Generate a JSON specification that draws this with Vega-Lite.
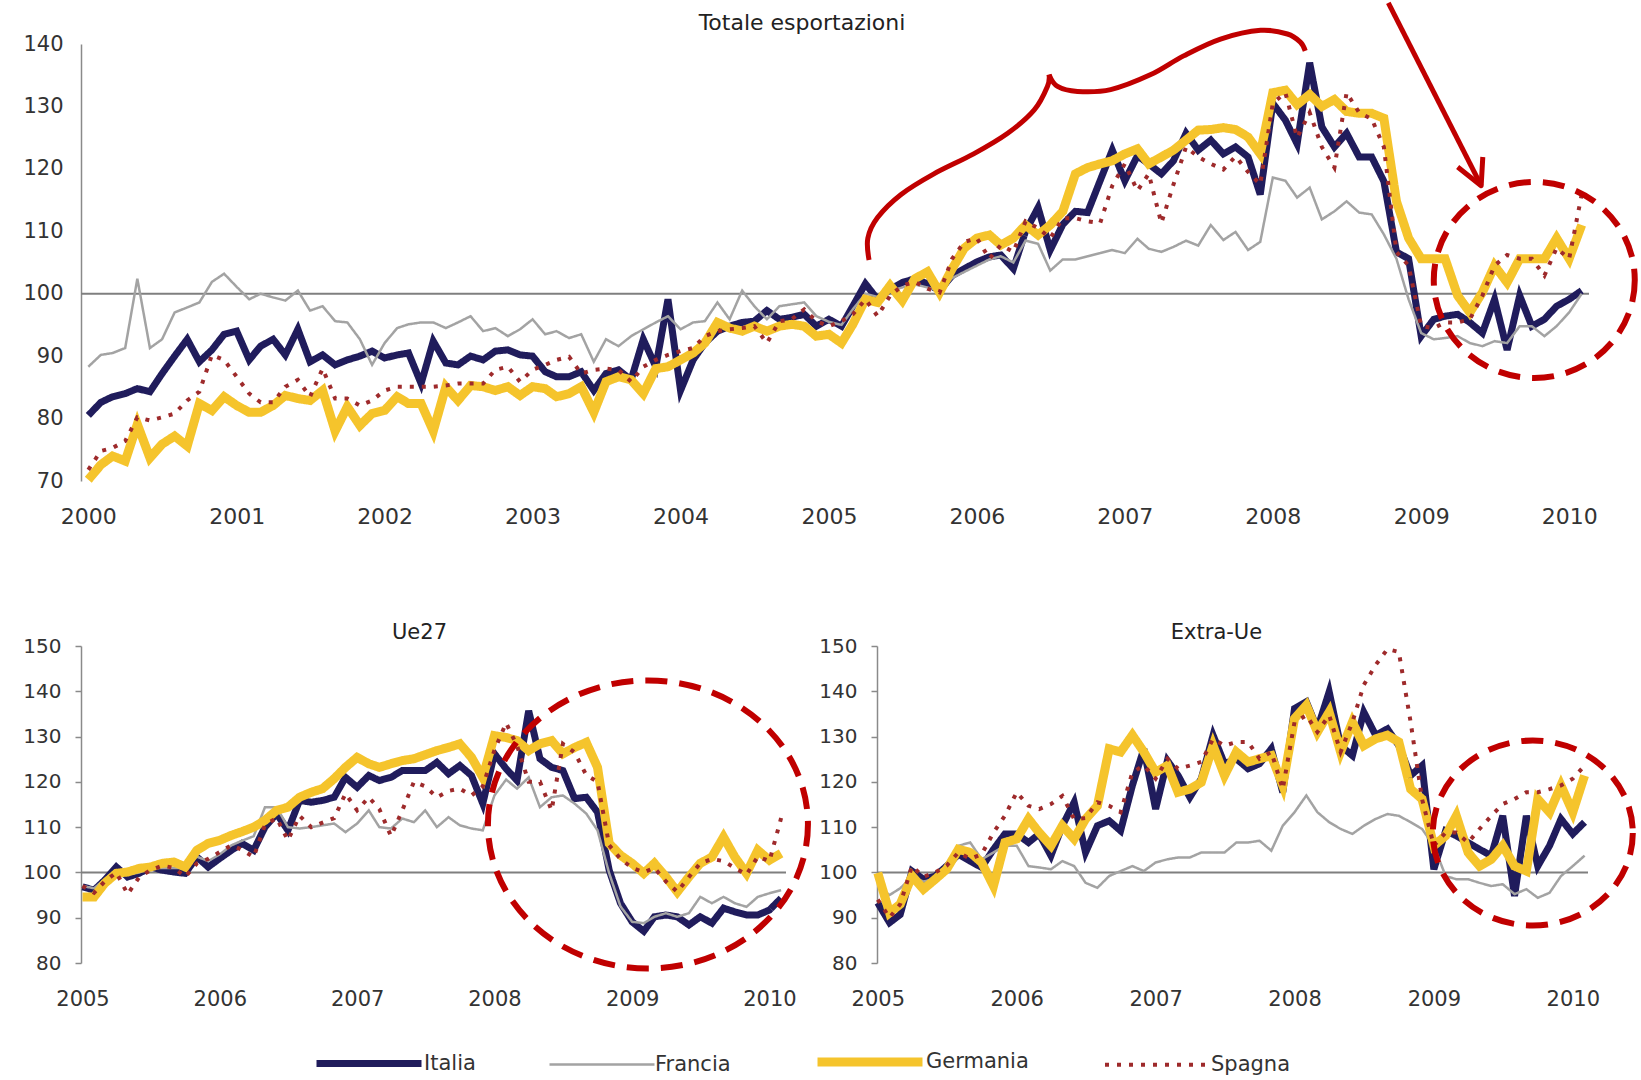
{
"$schema": "https://vega.github.io/schema/vega-lite/v6.json",
"background": "white",
"padding": {"left": 22, "top": 0, "right": 0, "bottom": 0},
"config": {
  "view": {"stroke": null},
  "font": "DejaVu Sans",
  "axis": {"grid": false, "labelFont": "DejaVu Sans", "labelColor": "#333333", "domainColor": "#8a8a8a", "domainWidth": 1.5, "tickColor": "#8a8a8a", "tickWidth": 1.5},
  "title": {"font": "DejaVu Sans", "fontWeight": "normal", "color": "#222222", "anchor": "middle", "baseline": "alphabetic"},
  "legend": {"title": null, "orient": "none", "legendX": 232, "legendY": 1003, "direction": "horizontal", "symbolType": "M-1,0H9", "symbolSize": 441, "labelFont": "DejaVu Sans", "labelFontSize": 21, "labelColor": "#333333", "labelOffset": 83, "columnPadding": 68}
},
"datasets": {
"tot": [
{"d":"2000-01","c":"Italia","v":80.5},{"d":"2000-02","c":"Italia","v":82.6},{"d":"2000-03","c":"Italia","v":83.5},{"d":"2000-04","c":"Italia","v":84},{"d":"2000-05","c":"Italia","v":84.8},{"d":"2000-06","c":"Italia","v":84.3},{"d":"2000-07","c":"Italia","v":87.2},{"d":"2000-08","c":"Italia","v":90},{"d":"2000-09","c":"Italia","v":92.7},{"d":"2000-10","c":"Italia","v":89.1},{"d":"2000-11","c":"Italia","v":91},{"d":"2000-12","c":"Italia","v":93.5},
{"d":"2001-01","c":"Italia","v":94},{"d":"2001-02","c":"Italia","v":89.4},{"d":"2001-03","c":"Italia","v":91.6},{"d":"2001-04","c":"Italia","v":92.7},{"d":"2001-05","c":"Italia","v":90.2},{"d":"2001-06","c":"Italia","v":94.3},{"d":"2001-07","c":"Italia","v":89.1},{"d":"2001-08","c":"Italia","v":90.2},{"d":"2001-09","c":"Italia","v":88.6},{"d":"2001-10","c":"Italia","v":89.4},{"d":"2001-11","c":"Italia","v":90},{"d":"2001-12","c":"Italia","v":90.8},
{"d":"2002-01","c":"Italia","v":89.7},{"d":"2002-02","c":"Italia","v":90.2},{"d":"2002-03","c":"Italia","v":90.5},{"d":"2002-04","c":"Italia","v":85.6},{"d":"2002-05","c":"Italia","v":92.4},{"d":"2002-06","c":"Italia","v":88.9},{"d":"2002-07","c":"Italia","v":88.6},{"d":"2002-08","c":"Italia","v":90},{"d":"2002-09","c":"Italia","v":89.4},{"d":"2002-10","c":"Italia","v":90.8},{"d":"2002-11","c":"Italia","v":91},{"d":"2002-12","c":"Italia","v":90.2},
{"d":"2003-01","c":"Italia","v":90},{"d":"2003-02","c":"Italia","v":87.5},{"d":"2003-03","c":"Italia","v":86.7},{"d":"2003-04","c":"Italia","v":86.7},{"d":"2003-05","c":"Italia","v":87.5},{"d":"2003-06","c":"Italia","v":84.5},{"d":"2003-07","c":"Italia","v":87.2},{"d":"2003-08","c":"Italia","v":87.8},{"d":"2003-09","c":"Italia","v":86.2},{"d":"2003-10","c":"Italia","v":92.7},{"d":"2003-11","c":"Italia","v":88.3},{"d":"2003-12","c":"Italia","v":99.1},
{"d":"2004-01","c":"Italia","v":84.5},{"d":"2004-02","c":"Italia","v":89.4},{"d":"2004-03","c":"Italia","v":92.1},{"d":"2004-04","c":"Italia","v":94},{"d":"2004-05","c":"Italia","v":94.8},{"d":"2004-06","c":"Italia","v":95.4},{"d":"2004-07","c":"Italia","v":95.6},{"d":"2004-08","c":"Italia","v":97.3},{"d":"2004-09","c":"Italia","v":95.9},{"d":"2004-10","c":"Italia","v":96.2},{"d":"2004-11","c":"Italia","v":96.7},{"d":"2004-12","c":"Italia","v":94.8},
{"d":"2005-01","c":"Italia","v":95.9},{"d":"2005-02","c":"Italia","v":94.8},{"d":"2005-03","c":"Italia","v":98},{"d":"2005-04","c":"Italia","v":101.6},{"d":"2005-05","c":"Italia","v":99.1},{"d":"2005-06","c":"Italia","v":100.7},{"d":"2005-07","c":"Italia","v":101.8},{"d":"2005-08","c":"Italia","v":102.4},{"d":"2005-09","c":"Italia","v":101.6},{"d":"2005-10","c":"Italia","v":100.5},{"d":"2005-11","c":"Italia","v":102.9},{"d":"2005-12","c":"Italia","v":104},
{"d":"2006-01","c":"Italia","v":105.1},{"d":"2006-02","c":"Italia","v":105.9},{"d":"2006-03","c":"Italia","v":106.2},{"d":"2006-04","c":"Italia","v":104},{"d":"2006-05","c":"Italia","v":110},{"d":"2006-06","c":"Italia","v":113.8},{"d":"2006-07","c":"Italia","v":107},{"d":"2006-08","c":"Italia","v":111.1},{"d":"2006-09","c":"Italia","v":113.2},{"d":"2006-10","c":"Italia","v":113},{"d":"2006-11","c":"Italia","v":118.1},{"d":"2006-12","c":"Italia","v":123},
{"d":"2007-01","c":"Italia","v":118.1},{"d":"2007-02","c":"Italia","v":122.1},{"d":"2007-03","c":"Italia","v":120.8},{"d":"2007-04","c":"Italia","v":119.2},{"d":"2007-05","c":"Italia","v":121.3},{"d":"2007-06","c":"Italia","v":125.7},{"d":"2007-07","c":"Italia","v":123},{"d":"2007-08","c":"Italia","v":124.6},{"d":"2007-09","c":"Italia","v":122.4},{"d":"2007-10","c":"Italia","v":123.5},{"d":"2007-11","c":"Italia","v":121.9},{"d":"2007-12","c":"Italia","v":115.9},
{"d":"2008-01","c":"Italia","v":130.5},{"d":"2008-02","c":"Italia","v":127.8},{"d":"2008-03","c":"Italia","v":124},{"d":"2008-04","c":"Italia","v":137},{"d":"2008-05","c":"Italia","v":126.7},{"d":"2008-06","c":"Italia","v":123.5},{"d":"2008-07","c":"Italia","v":125.7},{"d":"2008-08","c":"Italia","v":121.9},{"d":"2008-09","c":"Italia","v":121.9},{"d":"2008-10","c":"Italia","v":118},{"d":"2008-11","c":"Italia","v":106.7},{"d":"2008-12","c":"Italia","v":105.6},
{"d":"2009-01","c":"Italia","v":93.2},{"d":"2009-02","c":"Italia","v":95.9},{"d":"2009-03","c":"Italia","v":96.4},{"d":"2009-04","c":"Italia","v":96.7},{"d":"2009-05","c":"Italia","v":95.4},{"d":"2009-06","c":"Italia","v":93.7},{"d":"2009-07","c":"Italia","v":99.1},{"d":"2009-08","c":"Italia","v":91},{"d":"2009-09","c":"Italia","v":99.7},{"d":"2009-10","c":"Italia","v":94.8},{"d":"2009-11","c":"Italia","v":95.9},{"d":"2009-12","c":"Italia","v":98},
{"d":"2010-01","c":"Italia","v":99.1},{"d":"2010-02","c":"Italia","v":100.5},
{"d":"2000-01","c":"Francia","v":88.3},{"d":"2000-02","c":"Francia","v":90.2},{"d":"2000-03","c":"Francia","v":90.5},{"d":"2000-04","c":"Francia","v":91.3},{"d":"2000-05","c":"Francia","v":102.4},{"d":"2000-06","c":"Francia","v":91.3},{"d":"2000-07","c":"Francia","v":92.7},{"d":"2000-08","c":"Francia","v":97},{"d":"2000-09","c":"Francia","v":97.8},{"d":"2000-10","c":"Francia","v":98.6},{"d":"2000-11","c":"Francia","v":101.9},{"d":"2000-12","c":"Francia","v":103.2},
{"d":"2001-01","c":"Francia","v":101.1},{"d":"2001-02","c":"Francia","v":99.1},{"d":"2001-03","c":"Francia","v":100},{"d":"2001-04","c":"Francia","v":99.4},{"d":"2001-05","c":"Francia","v":98.9},{"d":"2001-06","c":"Francia","v":100.5},{"d":"2001-07","c":"Francia","v":97.3},{"d":"2001-08","c":"Francia","v":98},{"d":"2001-09","c":"Francia","v":95.6},{"d":"2001-10","c":"Francia","v":95.4},{"d":"2001-11","c":"Francia","v":92.7},{"d":"2001-12","c":"Francia","v":88.6},
{"d":"2002-01","c":"Francia","v":92.1},{"d":"2002-02","c":"Francia","v":94.5},{"d":"2002-03","c":"Francia","v":95.1},{"d":"2002-04","c":"Francia","v":95.4},{"d":"2002-05","c":"Francia","v":95.4},{"d":"2002-06","c":"Francia","v":94.5},{"d":"2002-07","c":"Francia","v":95.4},{"d":"2002-08","c":"Francia","v":96.4},{"d":"2002-09","c":"Francia","v":94},{"d":"2002-10","c":"Francia","v":94.5},{"d":"2002-11","c":"Francia","v":93.2},{"d":"2002-12","c":"Francia","v":94.3},
{"d":"2003-01","c":"Francia","v":95.9},{"d":"2003-02","c":"Francia","v":93.5},{"d":"2003-03","c":"Francia","v":94},{"d":"2003-04","c":"Francia","v":92.9},{"d":"2003-05","c":"Francia","v":93.5},{"d":"2003-06","c":"Francia","v":89.1},{"d":"2003-07","c":"Francia","v":92.7},{"d":"2003-08","c":"Francia","v":91.6},{"d":"2003-09","c":"Francia","v":93.2},{"d":"2003-10","c":"Francia","v":94.3},{"d":"2003-11","c":"Francia","v":95.4},{"d":"2003-12","c":"Francia","v":96.4},
{"d":"2004-01","c":"Francia","v":94.3},{"d":"2004-02","c":"Francia","v":95.4},{"d":"2004-03","c":"Francia","v":95.6},{"d":"2004-04","c":"Francia","v":98.6},{"d":"2004-05","c":"Francia","v":95.9},{"d":"2004-06","c":"Francia","v":100.5},{"d":"2004-07","c":"Francia","v":98},{"d":"2004-08","c":"Francia","v":95.9},{"d":"2004-09","c":"Francia","v":98},{"d":"2004-10","c":"Francia","v":98.3},{"d":"2004-11","c":"Francia","v":98.6},{"d":"2004-12","c":"Francia","v":96.4},
{"d":"2005-01","c":"Francia","v":95.5},{"d":"2005-02","c":"Francia","v":95},{"d":"2005-03","c":"Francia","v":97.5},{"d":"2005-04","c":"Francia","v":100},{"d":"2005-05","c":"Francia","v":99.5},{"d":"2005-06","c":"Francia","v":100.5},{"d":"2005-07","c":"Francia","v":101},{"d":"2005-08","c":"Francia","v":101.5},{"d":"2005-09","c":"Francia","v":101},{"d":"2005-10","c":"Francia","v":100.5},{"d":"2005-11","c":"Francia","v":102.5},{"d":"2005-12","c":"Francia","v":103.5},
{"d":"2006-01","c":"Francia","v":104.5},{"d":"2006-02","c":"Francia","v":105.5},{"d":"2006-03","c":"Francia","v":106},{"d":"2006-04","c":"Francia","v":105},{"d":"2006-05","c":"Francia","v":108.5},{"d":"2006-06","c":"Francia","v":108},{"d":"2006-07","c":"Francia","v":103.7},{"d":"2006-08","c":"Francia","v":105.5},{"d":"2006-09","c":"Francia","v":105.5},{"d":"2006-10","c":"Francia","v":106},{"d":"2006-11","c":"Francia","v":106.5},{"d":"2006-12","c":"Francia","v":107},
{"d":"2007-01","c":"Francia","v":106.5},{"d":"2007-02","c":"Francia","v":108.8},{"d":"2007-03","c":"Francia","v":107.2},{"d":"2007-04","c":"Francia","v":106.7},{"d":"2007-05","c":"Francia","v":107.5},{"d":"2007-06","c":"Francia","v":108.5},{"d":"2007-07","c":"Francia","v":107.7},{"d":"2007-08","c":"Francia","v":111},{"d":"2007-09","c":"Francia","v":108.6},{"d":"2007-10","c":"Francia","v":109.9},{"d":"2007-11","c":"Francia","v":107},{"d":"2007-12","c":"Francia","v":108.3},
{"d":"2008-01","c":"Francia","v":118.6},{"d":"2008-02","c":"Francia","v":118.1},{"d":"2008-03","c":"Francia","v":115.4},{"d":"2008-04","c":"Francia","v":117},{"d":"2008-05","c":"Francia","v":111.9},{"d":"2008-06","c":"Francia","v":113.2},{"d":"2008-07","c":"Francia","v":114.8},{"d":"2008-08","c":"Francia","v":113},{"d":"2008-09","c":"Francia","v":112.7},{"d":"2008-10","c":"Francia","v":109.5},{"d":"2008-11","c":"Francia","v":105.6},{"d":"2008-12","c":"Francia","v":99.1},
{"d":"2009-01","c":"Francia","v":93.7},{"d":"2009-02","c":"Francia","v":92.7},{"d":"2009-03","c":"Francia","v":92.9},{"d":"2009-04","c":"Francia","v":93.2},{"d":"2009-05","c":"Francia","v":92.1},{"d":"2009-06","c":"Francia","v":91.6},{"d":"2009-07","c":"Francia","v":92.4},{"d":"2009-08","c":"Francia","v":92.1},{"d":"2009-09","c":"Francia","v":94.8},{"d":"2009-10","c":"Francia","v":94.8},{"d":"2009-11","c":"Francia","v":93.2},{"d":"2009-12","c":"Francia","v":94.8},
{"d":"2010-01","c":"Francia","v":97},{"d":"2010-02","c":"Francia","v":100},
{"d":"2000-01","c":"Germania","v":70.2},{"d":"2000-02","c":"Germania","v":72.6},{"d":"2000-03","c":"Germania","v":74},{"d":"2000-04","c":"Germania","v":73.2},{"d":"2000-05","c":"Germania","v":79.1},{"d":"2000-06","c":"Germania","v":73.7},{"d":"2000-07","c":"Germania","v":75.9},{"d":"2000-08","c":"Germania","v":77.2},{"d":"2000-09","c":"Germania","v":75.6},{"d":"2000-10","c":"Germania","v":82.4},{"d":"2000-11","c":"Germania","v":81.3},{"d":"2000-12","c":"Germania","v":83.5},
{"d":"2001-01","c":"Germania","v":82.1},{"d":"2001-02","c":"Germania","v":81},{"d":"2001-03","c":"Germania","v":81},{"d":"2001-04","c":"Germania","v":82.1},{"d":"2001-05","c":"Germania","v":83.7},{"d":"2001-06","c":"Germania","v":83.2},{"d":"2001-07","c":"Germania","v":82.9},{"d":"2001-08","c":"Germania","v":84.5},{"d":"2001-09","c":"Germania","v":78},{"d":"2001-10","c":"Germania","v":81.9},{"d":"2001-11","c":"Germania","v":78.9},{"d":"2001-12","c":"Germania","v":80.8},
{"d":"2002-01","c":"Germania","v":81.3},{"d":"2002-02","c":"Germania","v":83.5},{"d":"2002-03","c":"Germania","v":82.4},{"d":"2002-04","c":"Germania","v":82.4},{"d":"2002-05","c":"Germania","v":78},{"d":"2002-06","c":"Germania","v":85.1},{"d":"2002-07","c":"Germania","v":82.9},{"d":"2002-08","c":"Germania","v":85.3},{"d":"2002-09","c":"Germania","v":85.1},{"d":"2002-10","c":"Germania","v":84.5},{"d":"2002-11","c":"Germania","v":85.1},{"d":"2002-12","c":"Germania","v":83.7},
{"d":"2003-01","c":"Germania","v":85.1},{"d":"2003-02","c":"Germania","v":84.8},{"d":"2003-03","c":"Germania","v":83.5},{"d":"2003-04","c":"Germania","v":84},{"d":"2003-05","c":"Germania","v":85.1},{"d":"2003-06","c":"Germania","v":81},{"d":"2003-07","c":"Germania","v":85.9},{"d":"2003-08","c":"Germania","v":86.7},{"d":"2003-09","c":"Germania","v":86.2},{"d":"2003-10","c":"Germania","v":84},{"d":"2003-11","c":"Germania","v":88},{"d":"2003-12","c":"Germania","v":88.3},
{"d":"2004-01","c":"Germania","v":89.4},{"d":"2004-02","c":"Germania","v":90.5},{"d":"2004-03","c":"Germania","v":92.1},{"d":"2004-04","c":"Germania","v":95.4},{"d":"2004-05","c":"Germania","v":94.5},{"d":"2004-06","c":"Germania","v":94},{"d":"2004-07","c":"Germania","v":94.8},{"d":"2004-08","c":"Germania","v":94},{"d":"2004-09","c":"Germania","v":94.8},{"d":"2004-10","c":"Germania","v":95.1},{"d":"2004-11","c":"Germania","v":94.8},{"d":"2004-12","c":"Germania","v":93.2},
{"d":"2005-01","c":"Germania","v":93.5},{"d":"2005-02","c":"Germania","v":92.1},{"d":"2005-03","c":"Germania","v":95.1},{"d":"2005-04","c":"Germania","v":99.1},{"d":"2005-05","c":"Germania","v":98.6},{"d":"2005-06","c":"Germania","v":101.3},{"d":"2005-07","c":"Germania","v":98.9},{"d":"2005-08","c":"Germania","v":102.4},{"d":"2005-09","c":"Germania","v":103.5},{"d":"2005-10","c":"Germania","v":100.2},{"d":"2005-11","c":"Germania","v":104},{"d":"2005-12","c":"Germania","v":107.3},
{"d":"2006-01","c":"Germania","v":108.9},{"d":"2006-02","c":"Germania","v":109.4},{"d":"2006-03","c":"Germania","v":107.8},{"d":"2006-04","c":"Germania","v":108.9},{"d":"2006-05","c":"Germania","v":111},{"d":"2006-06","c":"Germania","v":109.4},{"d":"2006-07","c":"Germania","v":111},{"d":"2006-08","c":"Germania","v":113.2},{"d":"2006-09","c":"Germania","v":119.2},{"d":"2006-10","c":"Germania","v":120.2},{"d":"2006-11","c":"Germania","v":120.8},{"d":"2006-12","c":"Germania","v":121.3},
{"d":"2007-01","c":"Germania","v":122.4},{"d":"2007-02","c":"Germania","v":123.2},{"d":"2007-03","c":"Germania","v":120.8},{"d":"2007-04","c":"Germania","v":121.9},{"d":"2007-05","c":"Germania","v":123},{"d":"2007-06","c":"Germania","v":124.6},{"d":"2007-07","c":"Germania","v":126.2},{"d":"2007-08","c":"Germania","v":126.3},{"d":"2007-09","c":"Germania","v":126.6},{"d":"2007-10","c":"Germania","v":126.3},{"d":"2007-11","c":"Germania","v":125.1},{"d":"2007-12","c":"Germania","v":122.4},
{"d":"2008-01","c":"Germania","v":132.2},{"d":"2008-02","c":"Germania","v":132.6},{"d":"2008-03","c":"Germania","v":130.3},{"d":"2008-04","c":"Germania","v":131.9},{"d":"2008-05","c":"Germania","v":130},{"d":"2008-06","c":"Germania","v":131.1},{"d":"2008-07","c":"Germania","v":129.2},{"d":"2008-08","c":"Germania","v":128.9},{"d":"2008-09","c":"Germania","v":128.9},{"d":"2008-10","c":"Germania","v":128.1},{"d":"2008-11","c":"Germania","v":114.8},{"d":"2008-12","c":"Germania","v":108.9},
{"d":"2009-01","c":"Germania","v":105.6},{"d":"2009-02","c":"Germania","v":105.6},{"d":"2009-03","c":"Germania","v":105.6},{"d":"2009-04","c":"Germania","v":99.7},{"d":"2009-05","c":"Germania","v":97},{"d":"2009-06","c":"Germania","v":100.2},{"d":"2009-07","c":"Germania","v":104.5},{"d":"2009-08","c":"Germania","v":101.8},{"d":"2009-09","c":"Germania","v":105.6},{"d":"2009-10","c":"Germania","v":105.6},{"d":"2009-11","c":"Germania","v":105.6},{"d":"2009-12","c":"Germania","v":108.9},
{"d":"2010-01","c":"Germania","v":105.6},{"d":"2010-02","c":"Germania","v":111},
{"d":"2000-01","c":"Spagna","v":71.8},{"d":"2000-02","c":"Spagna","v":74.8},{"d":"2000-03","c":"Spagna","v":75.3},{"d":"2000-04","c":"Spagna","v":76.4},{"d":"2000-05","c":"Spagna","v":80.2},{"d":"2000-06","c":"Spagna","v":79.7},{"d":"2000-07","c":"Spagna","v":80.2},{"d":"2000-08","c":"Spagna","v":80.8},{"d":"2000-09","c":"Spagna","v":82.9},{"d":"2000-10","c":"Spagna","v":84.3},{"d":"2000-11","c":"Spagna","v":90.2},{"d":"2000-12","c":"Spagna","v":89.4},
{"d":"2001-01","c":"Spagna","v":86.7},{"d":"2001-02","c":"Spagna","v":84},{"d":"2001-03","c":"Spagna","v":82.6},{"d":"2001-04","c":"Spagna","v":82.6},{"d":"2001-05","c":"Spagna","v":85.1},{"d":"2001-06","c":"Spagna","v":86.2},{"d":"2001-07","c":"Spagna","v":83.5},{"d":"2001-08","c":"Spagna","v":88},{"d":"2001-09","c":"Spagna","v":83.2},{"d":"2001-10","c":"Spagna","v":83.2},{"d":"2001-11","c":"Spagna","v":82.1},{"d":"2001-12","c":"Spagna","v":82.9},
{"d":"2002-01","c":"Spagna","v":84.5},{"d":"2002-02","c":"Spagna","v":85.1},{"d":"2002-03","c":"Spagna","v":85.1},{"d":"2002-04","c":"Spagna","v":85.1},{"d":"2002-05","c":"Spagna","v":85.1},{"d":"2002-06","c":"Spagna","v":85.3},{"d":"2002-07","c":"Spagna","v":85.6},{"d":"2002-08","c":"Spagna","v":85.6},{"d":"2002-09","c":"Spagna","v":85.6},{"d":"2002-10","c":"Spagna","v":87.8},{"d":"2002-11","c":"Spagna","v":88.3},{"d":"2002-12","c":"Spagna","v":85.9},
{"d":"2003-01","c":"Spagna","v":87.8},{"d":"2003-02","c":"Spagna","v":88.6},{"d":"2003-03","c":"Spagna","v":89.4},{"d":"2003-04","c":"Spagna","v":89.9},{"d":"2003-05","c":"Spagna","v":87.2},{"d":"2003-06","c":"Spagna","v":87.8},{"d":"2003-07","c":"Spagna","v":88},{"d":"2003-08","c":"Spagna","v":87.8},{"d":"2003-09","c":"Spagna","v":85.9},{"d":"2003-10","c":"Spagna","v":88.3},{"d":"2003-11","c":"Spagna","v":89.4},{"d":"2003-12","c":"Spagna","v":90.2},
{"d":"2004-01","c":"Spagna","v":90.8},{"d":"2004-02","c":"Spagna","v":91.3},{"d":"2004-03","c":"Spagna","v":93.2},{"d":"2004-04","c":"Spagna","v":94},{"d":"2004-05","c":"Spagna","v":94.3},{"d":"2004-06","c":"Spagna","v":94.5},{"d":"2004-07","c":"Spagna","v":94.8},{"d":"2004-08","c":"Spagna","v":92.1},{"d":"2004-09","c":"Spagna","v":95.6},{"d":"2004-10","c":"Spagna","v":95.9},{"d":"2004-11","c":"Spagna","v":97.5},{"d":"2004-12","c":"Spagna","v":95.6},
{"d":"2005-01","c":"Spagna","v":94.8},{"d":"2005-02","c":"Spagna","v":95.6},{"d":"2005-03","c":"Spagna","v":96.7},{"d":"2005-04","c":"Spagna","v":99.1},{"d":"2005-05","c":"Spagna","v":96.4},{"d":"2005-06","c":"Spagna","v":99.7},{"d":"2005-07","c":"Spagna","v":101.3},{"d":"2005-08","c":"Spagna","v":101.9},{"d":"2005-09","c":"Spagna","v":100.8},{"d":"2005-10","c":"Spagna","v":100.2},{"d":"2005-11","c":"Spagna","v":105.6},{"d":"2005-12","c":"Spagna","v":108.3},
{"d":"2006-01","c":"Spagna","v":108.9},{"d":"2006-02","c":"Spagna","v":105.6},{"d":"2006-03","c":"Spagna","v":107.8},{"d":"2006-04","c":"Spagna","v":106.7},{"d":"2006-05","c":"Spagna","v":111.6},{"d":"2006-06","c":"Spagna","v":110.5},{"d":"2006-07","c":"Spagna","v":108.9},{"d":"2006-08","c":"Spagna","v":112.1},{"d":"2006-09","c":"Spagna","v":112.1},{"d":"2006-10","c":"Spagna","v":111.6},{"d":"2006-11","c":"Spagna","v":111.3},{"d":"2006-12","c":"Spagna","v":117.3},
{"d":"2007-01","c":"Spagna","v":120.8},{"d":"2007-02","c":"Spagna","v":116.5},{"d":"2007-03","c":"Spagna","v":119.2},{"d":"2007-04","c":"Spagna","v":111.3},{"d":"2007-05","c":"Spagna","v":117.5},{"d":"2007-06","c":"Spagna","v":123.5},{"d":"2007-07","c":"Spagna","v":121.9},{"d":"2007-08","c":"Spagna","v":120.8},{"d":"2007-09","c":"Spagna","v":119.9},{"d":"2007-10","c":"Spagna","v":122},{"d":"2007-11","c":"Spagna","v":119.5},{"d":"2007-12","c":"Spagna","v":117.5},
{"d":"2008-01","c":"Spagna","v":130.5},{"d":"2008-02","c":"Spagna","v":132.2},{"d":"2008-03","c":"Spagna","v":125},{"d":"2008-04","c":"Spagna","v":129},{"d":"2008-05","c":"Spagna","v":123.5},{"d":"2008-06","c":"Spagna","v":120.2},{"d":"2008-07","c":"Spagna","v":132.2},{"d":"2008-08","c":"Spagna","v":129},{"d":"2008-09","c":"Spagna","v":128},{"d":"2008-10","c":"Spagna","v":123.5},{"d":"2008-11","c":"Spagna","v":106.7},{"d":"2008-12","c":"Spagna","v":104.5},
{"d":"2009-01","c":"Spagna","v":94.8},{"d":"2009-02","c":"Spagna","v":94.5},{"d":"2009-03","c":"Spagna","v":95.4},{"d":"2009-04","c":"Spagna","v":95.4},{"d":"2009-05","c":"Spagna","v":95.9},{"d":"2009-06","c":"Spagna","v":99.7},{"d":"2009-07","c":"Spagna","v":104.5},{"d":"2009-08","c":"Spagna","v":106.2},{"d":"2009-09","c":"Spagna","v":105.6},{"d":"2009-10","c":"Spagna","v":105.6},{"d":"2009-11","c":"Spagna","v":102.9},{"d":"2009-12","c":"Spagna","v":107.3},
{"d":"2010-01","c":"Spagna","v":105.6},{"d":"2010-02","c":"Spagna","v":115.9}
],
"ue": [
{"d":"2005-01","c":"Italia","v":96.8},{"d":"2005-02","c":"Italia","v":96.1},{"d":"2005-03","c":"Italia","v":98.3},{"d":"2005-04","c":"Italia","v":101.2},{"d":"2005-05","c":"Italia","v":99},{"d":"2005-06","c":"Italia","v":99.8},{"d":"2005-07","c":"Italia","v":101.2},{"d":"2005-08","c":"Italia","v":100.5},{"d":"2005-09","c":"Italia","v":100.1},{"d":"2005-10","c":"Italia","v":99.8},{"d":"2005-11","c":"Italia","v":103.4},{"d":"2005-12","c":"Italia","v":101.2},
{"d":"2006-01","c":"Italia","v":103.1},{"d":"2006-02","c":"Italia","v":104.9},{"d":"2006-03","c":"Italia","v":106.4},{"d":"2006-04","c":"Italia","v":104.9},{"d":"2006-05","c":"Italia","v":110},{"d":"2006-06","c":"Italia","v":113},{"d":"2006-07","c":"Italia","v":109.3},{"d":"2006-08","c":"Italia","v":115.9},{"d":"2006-09","c":"Italia","v":115.5},{"d":"2006-10","c":"Italia","v":115.9},{"d":"2006-11","c":"Italia","v":116.6},{"d":"2006-12","c":"Italia","v":121},
{"d":"2007-01","c":"Italia","v":118.8},{"d":"2007-02","c":"Italia","v":121.4},{"d":"2007-03","c":"Italia","v":120.3},{"d":"2007-04","c":"Italia","v":121},{"d":"2007-05","c":"Italia","v":122.5},{"d":"2007-06","c":"Italia","v":122.5},{"d":"2007-07","c":"Italia","v":122.5},{"d":"2007-08","c":"Italia","v":124.3},{"d":"2007-09","c":"Italia","v":121.8},{"d":"2007-10","c":"Italia","v":123.6},{"d":"2007-11","c":"Italia","v":121.4},{"d":"2007-12","c":"Italia","v":115.2},
{"d":"2008-01","c":"Italia","v":126.2},{"d":"2008-02","c":"Italia","v":122.9},{"d":"2008-03","c":"Italia","v":120.3},{"d":"2008-04","c":"Italia","v":135.7},{"d":"2008-05","c":"Italia","v":125.1},{"d":"2008-06","c":"Italia","v":123.2},{"d":"2008-07","c":"Italia","v":122.5},{"d":"2008-08","c":"Italia","v":116.3},{"d":"2008-09","c":"Italia","v":116.6},{"d":"2008-10","c":"Italia","v":113.3},{"d":"2008-11","c":"Italia","v":100.5},{"d":"2008-12","c":"Italia","v":93.2},
{"d":"2009-01","c":"Italia","v":89.1},{"d":"2009-02","c":"Italia","v":87},{"d":"2009-03","c":"Italia","v":90.2},{"d":"2009-04","c":"Italia","v":90.6},{"d":"2009-05","c":"Italia","v":90.2},{"d":"2009-06","c":"Italia","v":88.4},{"d":"2009-07","c":"Italia","v":90.2},{"d":"2009-08","c":"Italia","v":88.8},{"d":"2009-09","c":"Italia","v":92.1},{"d":"2009-10","c":"Italia","v":91.3},{"d":"2009-11","c":"Italia","v":90.6},{"d":"2009-12","c":"Italia","v":90.6},
{"d":"2010-01","c":"Italia","v":91.7},{"d":"2010-02","c":"Italia","v":94.3},
{"d":"2005-01","c":"Francia","v":97},{"d":"2005-02","c":"Francia","v":96.5},{"d":"2005-03","c":"Francia","v":98.5},{"d":"2005-04","c":"Francia","v":100.5},{"d":"2005-05","c":"Francia","v":99.5},{"d":"2005-06","c":"Francia","v":100},{"d":"2005-07","c":"Francia","v":101},{"d":"2005-08","c":"Francia","v":101},{"d":"2005-09","c":"Francia","v":101},{"d":"2005-10","c":"Francia","v":101},{"d":"2005-11","c":"Francia","v":103.5},{"d":"2005-12","c":"Francia","v":102.5},
{"d":"2006-01","c":"Francia","v":104},{"d":"2006-02","c":"Francia","v":106},{"d":"2006-03","c":"Francia","v":107},{"d":"2006-04","c":"Francia","v":108},{"d":"2006-05","c":"Francia","v":114.4},{"d":"2006-06","c":"Francia","v":114.4},{"d":"2006-07","c":"Francia","v":110},{"d":"2006-08","c":"Francia","v":109.7},{"d":"2006-09","c":"Francia","v":110},{"d":"2006-10","c":"Francia","v":110.4},{"d":"2006-11","c":"Francia","v":110.8},{"d":"2006-12","c":"Francia","v":108.9},
{"d":"2007-01","c":"Francia","v":110.8},{"d":"2007-02","c":"Francia","v":113.7},{"d":"2007-03","c":"Francia","v":110},{"d":"2007-04","c":"Francia","v":109.7},{"d":"2007-05","c":"Francia","v":111.9},{"d":"2007-06","c":"Francia","v":111.1},{"d":"2007-07","c":"Francia","v":113.7},{"d":"2007-08","c":"Francia","v":110},{"d":"2007-09","c":"Francia","v":112.2},{"d":"2007-10","c":"Francia","v":110.4},{"d":"2007-11","c":"Francia","v":109.7},{"d":"2007-12","c":"Francia","v":109.3},
{"d":"2008-01","c":"Francia","v":117},{"d":"2008-02","c":"Francia","v":120.5},{"d":"2008-03","c":"Francia","v":118.5},{"d":"2008-04","c":"Francia","v":121},{"d":"2008-05","c":"Francia","v":114.4},{"d":"2008-06","c":"Francia","v":116.6},{"d":"2008-07","c":"Francia","v":117},{"d":"2008-08","c":"Francia","v":115.2},{"d":"2008-09","c":"Francia","v":113},{"d":"2008-10","c":"Francia","v":109.3},{"d":"2008-11","c":"Francia","v":99.8},{"d":"2008-12","c":"Francia","v":92.5},
{"d":"2009-01","c":"Francia","v":89.1},{"d":"2009-02","c":"Francia","v":88.8},{"d":"2009-03","c":"Francia","v":90.2},{"d":"2009-04","c":"Francia","v":91},{"d":"2009-05","c":"Francia","v":90.2},{"d":"2009-06","c":"Francia","v":91},{"d":"2009-07","c":"Francia","v":94.6},{"d":"2009-08","c":"Francia","v":93.2},{"d":"2009-09","c":"Francia","v":94.6},{"d":"2009-10","c":"Francia","v":93.2},{"d":"2009-11","c":"Francia","v":92.4},{"d":"2009-12","c":"Francia","v":94.6},
{"d":"2010-01","c":"Francia","v":95.4},{"d":"2010-02","c":"Francia","v":96.1},
{"d":"2005-01","c":"Germania","v":94.6},{"d":"2005-02","c":"Germania","v":94.6},{"d":"2005-03","c":"Germania","v":97.6},{"d":"2005-04","c":"Germania","v":99.8},{"d":"2005-05","c":"Germania","v":100.1},{"d":"2005-06","c":"Germania","v":100.9},{"d":"2005-07","c":"Germania","v":101.2},{"d":"2005-08","c":"Germania","v":102},{"d":"2005-09","c":"Germania","v":102.3},{"d":"2005-10","c":"Germania","v":101.2},{"d":"2005-11","c":"Germania","v":104.9},{"d":"2005-12","c":"Germania","v":106.4},
{"d":"2006-01","c":"Germania","v":107.1},{"d":"2006-02","c":"Germania","v":108.2},{"d":"2006-03","c":"Germania","v":109},{"d":"2006-04","c":"Germania","v":110},{"d":"2006-05","c":"Germania","v":111.5},{"d":"2006-06","c":"Germania","v":113.7},{"d":"2006-07","c":"Germania","v":114.4},{"d":"2006-08","c":"Germania","v":116.6},{"d":"2006-09","c":"Germania","v":117.7},{"d":"2006-10","c":"Germania","v":118.5},{"d":"2006-11","c":"Germania","v":120.7},{"d":"2006-12","c":"Germania","v":123.2},
{"d":"2007-01","c":"Germania","v":125.4},{"d":"2007-02","c":"Germania","v":124},{"d":"2007-03","c":"Germania","v":123.2},{"d":"2007-04","c":"Germania","v":124},{"d":"2007-05","c":"Germania","v":124.7},{"d":"2007-06","c":"Germania","v":125.1},{"d":"2007-07","c":"Germania","v":126},{"d":"2007-08","c":"Germania","v":126.9},{"d":"2007-09","c":"Germania","v":127.6},{"d":"2007-10","c":"Germania","v":128.4},{"d":"2007-11","c":"Germania","v":125.4},{"d":"2007-12","c":"Germania","v":121},
{"d":"2008-01","c":"Germania","v":130.2},{"d":"2008-02","c":"Germania","v":129.8},{"d":"2008-03","c":"Germania","v":129.1},{"d":"2008-04","c":"Germania","v":126.9},{"d":"2008-05","c":"Germania","v":128.4},{"d":"2008-06","c":"Germania","v":129.1},{"d":"2008-07","c":"Germania","v":126.2},{"d":"2008-08","c":"Germania","v":127.6},{"d":"2008-09","c":"Germania","v":128.7},{"d":"2008-10","c":"Germania","v":123.2},{"d":"2008-11","c":"Germania","v":106.4},{"d":"2008-12","c":"Germania","v":103.8},
{"d":"2009-01","c":"Germania","v":102},{"d":"2009-02","c":"Germania","v":99.8},{"d":"2009-03","c":"Germania","v":102},{"d":"2009-04","c":"Germania","v":99},{"d":"2009-05","c":"Germania","v":95.7},{"d":"2009-06","c":"Germania","v":99},{"d":"2009-07","c":"Germania","v":102},{"d":"2009-08","c":"Germania","v":103.4},{"d":"2009-09","c":"Germania","v":107.8},{"d":"2009-10","c":"Germania","v":103.4},{"d":"2009-11","c":"Germania","v":99.8},{"d":"2009-12","c":"Germania","v":104.9},
{"d":"2010-01","c":"Germania","v":102.7},{"d":"2010-02","c":"Germania","v":104.2},
{"d":"2005-01","c":"Spagna","v":97},{"d":"2005-02","c":"Spagna","v":95.5},{"d":"2005-03","c":"Spagna","v":98},{"d":"2005-04","c":"Spagna","v":100},{"d":"2005-05","c":"Spagna","v":95.2},{"d":"2005-06","c":"Spagna","v":99},{"d":"2005-07","c":"Spagna","v":100.5},{"d":"2005-08","c":"Spagna","v":101.5},{"d":"2005-09","c":"Spagna","v":101},{"d":"2005-10","c":"Spagna","v":99},{"d":"2005-11","c":"Spagna","v":102},{"d":"2005-12","c":"Spagna","v":103},
{"d":"2006-01","c":"Spagna","v":104.5},{"d":"2006-02","c":"Spagna","v":106},{"d":"2006-03","c":"Spagna","v":105},{"d":"2006-04","c":"Spagna","v":103.4},{"d":"2006-05","c":"Spagna","v":110.5},{"d":"2006-06","c":"Spagna","v":112},{"d":"2006-07","c":"Spagna","v":107.1},{"d":"2006-08","c":"Spagna","v":112.5},{"d":"2006-09","c":"Spagna","v":110},{"d":"2006-10","c":"Spagna","v":111},{"d":"2006-11","c":"Spagna","v":112},{"d":"2006-12","c":"Spagna","v":117.4},
{"d":"2007-01","c":"Spagna","v":113.7},{"d":"2007-02","c":"Spagna","v":116.6},{"d":"2007-03","c":"Spagna","v":114},{"d":"2007-04","c":"Spagna","v":108},{"d":"2007-05","c":"Spagna","v":113.7},{"d":"2007-06","c":"Spagna","v":120},{"d":"2007-07","c":"Spagna","v":119},{"d":"2007-08","c":"Spagna","v":116.6},{"d":"2007-09","c":"Spagna","v":118},{"d":"2007-10","c":"Spagna","v":118.5},{"d":"2007-11","c":"Spagna","v":117},{"d":"2007-12","c":"Spagna","v":119},
{"d":"2008-01","c":"Spagna","v":127},{"d":"2008-02","c":"Spagna","v":133},{"d":"2008-03","c":"Spagna","v":128},{"d":"2008-04","c":"Spagna","v":120},{"d":"2008-05","c":"Spagna","v":120},{"d":"2008-06","c":"Spagna","v":113.7},{"d":"2008-07","c":"Spagna","v":128.4},{"d":"2008-08","c":"Spagna","v":126.5},{"d":"2008-09","c":"Spagna","v":121.5},{"d":"2008-10","c":"Spagna","v":120},{"d":"2008-11","c":"Spagna","v":106},{"d":"2008-12","c":"Spagna","v":103},
{"d":"2009-01","c":"Spagna","v":101},{"d":"2009-02","c":"Spagna","v":100},{"d":"2009-03","c":"Spagna","v":101},{"d":"2009-04","c":"Spagna","v":98},{"d":"2009-05","c":"Spagna","v":95.7},{"d":"2009-06","c":"Spagna","v":99},{"d":"2009-07","c":"Spagna","v":102},{"d":"2009-08","c":"Spagna","v":103},{"d":"2009-09","c":"Spagna","v":102.5},{"d":"2009-10","c":"Spagna","v":101},{"d":"2009-11","c":"Spagna","v":99.5},{"d":"2009-12","c":"Spagna","v":103.5},
{"d":"2010-01","c":"Spagna","v":102.5},{"d":"2010-02","c":"Spagna","v":112}
],
"ex": [
{"d":"2005-01","c":"Italia","v":93.3},{"d":"2005-02","c":"Italia","v":88.9},{"d":"2005-03","c":"Italia","v":90.7},{"d":"2005-04","c":"Italia","v":100.3},{"d":"2005-05","c":"Italia","v":98.5},{"d":"2005-06","c":"Italia","v":99.2},{"d":"2005-07","c":"Italia","v":101.4},{"d":"2005-08","c":"Italia","v":104},{"d":"2005-09","c":"Italia","v":102.5},{"d":"2005-10","c":"Italia","v":101.1},{"d":"2005-11","c":"Italia","v":105.1},{"d":"2005-12","c":"Italia","v":108.5},
{"d":"2006-01","c":"Italia","v":108.5},{"d":"2006-02","c":"Italia","v":106.6},{"d":"2006-03","c":"Italia","v":108.5},{"d":"2006-04","c":"Italia","v":103.7},{"d":"2006-05","c":"Italia","v":110.3},{"d":"2006-06","c":"Italia","v":115.5},{"d":"2006-07","c":"Italia","v":104.4},{"d":"2006-08","c":"Italia","v":110.3},{"d":"2006-09","c":"Italia","v":111.4},{"d":"2006-10","c":"Italia","v":109.2},{"d":"2006-11","c":"Italia","v":119.2},{"d":"2006-12","c":"Italia","v":127.3},
{"d":"2007-01","c":"Italia","v":114},{"d":"2007-02","c":"Italia","v":124.7},{"d":"2007-03","c":"Italia","v":121.4},{"d":"2007-04","c":"Italia","v":116.6},{"d":"2007-05","c":"Italia","v":120.7},{"d":"2007-06","c":"Italia","v":130.3},{"d":"2007-07","c":"Italia","v":124},{"d":"2007-08","c":"Italia","v":125.1},{"d":"2007-09","c":"Italia","v":122.9},{"d":"2007-10","c":"Italia","v":124},{"d":"2007-11","c":"Italia","v":127.3},{"d":"2007-12","c":"Italia","v":117.7},
{"d":"2008-01","c":"Italia","v":136.2},{"d":"2008-02","c":"Italia","v":137.7},{"d":"2008-03","c":"Italia","v":131.7},{"d":"2008-04","c":"Italia","v":139.9},{"d":"2008-05","c":"Italia","v":128},{"d":"2008-06","c":"Italia","v":125.8},{"d":"2008-07","c":"Italia","v":135.4},{"d":"2008-08","c":"Italia","v":130.3},{"d":"2008-09","c":"Italia","v":131.7},{"d":"2008-10","c":"Italia","v":128},{"d":"2008-11","c":"Italia","v":121.4},{"d":"2008-12","c":"Italia","v":123.6},
{"d":"2009-01","c":"Italia","v":100.7},{"d":"2009-02","c":"Italia","v":109.2},{"d":"2009-03","c":"Italia","v":108.1},{"d":"2009-04","c":"Italia","v":106.6},{"d":"2009-05","c":"Italia","v":105.1},{"d":"2009-06","c":"Italia","v":103.7},{"d":"2009-07","c":"Italia","v":112.5},{"d":"2009-08","c":"Italia","v":94.8},{"d":"2009-09","c":"Italia","v":112.5},{"d":"2009-10","c":"Italia","v":101.4},{"d":"2009-11","c":"Italia","v":105.9},{"d":"2009-12","c":"Italia","v":111.8},
{"d":"2010-01","c":"Italia","v":108.5},{"d":"2010-02","c":"Italia","v":111.1},
{"d":"2005-01","c":"Francia","v":97},{"d":"2005-02","c":"Francia","v":95},{"d":"2005-03","c":"Francia","v":96.5},{"d":"2005-04","c":"Francia","v":99},{"d":"2005-05","c":"Francia","v":98},{"d":"2005-06","c":"Francia","v":98.5},{"d":"2005-07","c":"Francia","v":100.7},{"d":"2005-08","c":"Francia","v":105.9},{"d":"2005-09","c":"Francia","v":106.6},{"d":"2005-10","c":"Francia","v":102.9},{"d":"2005-11","c":"Francia","v":104.4},{"d":"2005-12","c":"Francia","v":105.9},
{"d":"2006-01","c":"Francia","v":105.9},{"d":"2006-02","c":"Francia","v":101.4},{"d":"2006-03","c":"Francia","v":101.1},{"d":"2006-04","c":"Francia","v":100.7},{"d":"2006-05","c":"Francia","v":102.5},{"d":"2006-06","c":"Francia","v":101.4},{"d":"2006-07","c":"Francia","v":97.7},{"d":"2006-08","c":"Francia","v":96.6},{"d":"2006-09","c":"Francia","v":99.2},{"d":"2006-10","c":"Francia","v":100.3},{"d":"2006-11","c":"Francia","v":101.4},{"d":"2006-12","c":"Francia","v":100.3},
{"d":"2007-01","c":"Francia","v":102.2},{"d":"2007-02","c":"Francia","v":102.9},{"d":"2007-03","c":"Francia","v":103.3},{"d":"2007-04","c":"Francia","v":103.3},{"d":"2007-05","c":"Francia","v":104.4},{"d":"2007-06","c":"Francia","v":104.4},{"d":"2007-07","c":"Francia","v":104.4},{"d":"2007-08","c":"Francia","v":106.6},{"d":"2007-09","c":"Francia","v":106.6},{"d":"2007-10","c":"Francia","v":107},{"d":"2007-11","c":"Francia","v":104.8},{"d":"2007-12","c":"Francia","v":110.3},
{"d":"2008-01","c":"Francia","v":113.3},{"d":"2008-02","c":"Francia","v":117},{"d":"2008-03","c":"Francia","v":113.3},{"d":"2008-04","c":"Francia","v":111.1},{"d":"2008-05","c":"Francia","v":109.6},{"d":"2008-06","c":"Francia","v":108.5},{"d":"2008-07","c":"Francia","v":110.3},{"d":"2008-08","c":"Francia","v":111.8},{"d":"2008-09","c":"Francia","v":112.9},{"d":"2008-10","c":"Francia","v":112.5},{"d":"2008-11","c":"Francia","v":111.1},{"d":"2008-12","c":"Francia","v":109.6},
{"d":"2009-01","c":"Francia","v":105.9},{"d":"2009-02","c":"Francia","v":99.2},{"d":"2009-03","c":"Francia","v":98.5},{"d":"2009-04","c":"Francia","v":98.5},{"d":"2009-05","c":"Francia","v":97.7},{"d":"2009-06","c":"Francia","v":97},{"d":"2009-07","c":"Francia","v":97.4},{"d":"2009-08","c":"Francia","v":95.2},{"d":"2009-09","c":"Francia","v":96.3},{"d":"2009-10","c":"Francia","v":94.4},{"d":"2009-11","c":"Francia","v":95.5},{"d":"2009-12","c":"Francia","v":99.2},
{"d":"2010-01","c":"Francia","v":101.4},{"d":"2010-02","c":"Francia","v":103.7},
{"d":"2005-01","c":"Germania","v":99.9},{"d":"2005-02","c":"Germania","v":91.1},{"d":"2005-03","c":"Germania","v":93},{"d":"2005-04","c":"Germania","v":99.2},{"d":"2005-05","c":"Germania","v":96.3},{"d":"2005-06","c":"Germania","v":98.5},{"d":"2005-07","c":"Germania","v":100.7},{"d":"2005-08","c":"Germania","v":105.1},{"d":"2005-09","c":"Germania","v":104.4},{"d":"2005-10","c":"Germania","v":102.2},{"d":"2005-11","c":"Germania","v":97},{"d":"2005-12","c":"Germania","v":106.6},
{"d":"2006-01","c":"Germania","v":107.4},{"d":"2006-02","c":"Germania","v":111.8},{"d":"2006-03","c":"Germania","v":108.8},{"d":"2006-04","c":"Germania","v":105.9},{"d":"2006-05","c":"Germania","v":110.3},{"d":"2006-06","c":"Germania","v":107.4},{"d":"2006-07","c":"Germania","v":111.8},{"d":"2006-08","c":"Germania","v":114.7},{"d":"2006-09","c":"Germania","v":127.3},{"d":"2006-10","c":"Germania","v":126.6},{"d":"2006-11","c":"Germania","v":130.3},{"d":"2006-12","c":"Germania","v":126.6},
{"d":"2007-01","c":"Germania","v":122.1},{"d":"2007-02","c":"Germania","v":123.6},{"d":"2007-03","c":"Germania","v":117.7},{"d":"2007-04","c":"Germania","v":118.4},{"d":"2007-05","c":"Germania","v":119.9},{"d":"2007-06","c":"Germania","v":128},{"d":"2007-07","c":"Germania","v":121.4},{"d":"2007-08","c":"Germania","v":126.6},{"d":"2007-09","c":"Germania","v":124.4},{"d":"2007-10","c":"Germania","v":125.1},{"d":"2007-11","c":"Germania","v":125.8},{"d":"2007-12","c":"Germania","v":119.2},
{"d":"2008-01","c":"Germania","v":134},{"d":"2008-02","c":"Germania","v":136.9},{"d":"2008-03","c":"Germania","v":131},{"d":"2008-04","c":"Germania","v":135.4},{"d":"2008-05","c":"Germania","v":126.6},{"d":"2008-06","c":"Germania","v":133.2},{"d":"2008-07","c":"Germania","v":128},{"d":"2008-08","c":"Germania","v":129.5},{"d":"2008-09","c":"Germania","v":130.3},{"d":"2008-10","c":"Germania","v":128.8},{"d":"2008-11","c":"Germania","v":118.4},{"d":"2008-12","c":"Germania","v":116.2},
{"d":"2009-01","c":"Germania","v":105.9},{"d":"2009-02","c":"Germania","v":108.1},{"d":"2009-03","c":"Germania","v":112.5},{"d":"2009-04","c":"Germania","v":104.4},{"d":"2009-05","c":"Germania","v":101.4},{"d":"2009-06","c":"Germania","v":102.9},{"d":"2009-07","c":"Germania","v":105.9},{"d":"2009-08","c":"Germania","v":101.4},{"d":"2009-09","c":"Germania","v":100.3},{"d":"2009-10","c":"Germania","v":116.2},{"d":"2009-11","c":"Germania","v":113.3},{"d":"2009-12","c":"Germania","v":119.2},
{"d":"2010-01","c":"Germania","v":113.3},{"d":"2010-02","c":"Germania","v":121.4},
{"d":"2005-01","c":"Spagna","v":94},{"d":"2005-02","c":"Spagna","v":90},{"d":"2005-03","c":"Spagna","v":93},{"d":"2005-04","c":"Spagna","v":101.4},{"d":"2005-05","c":"Spagna","v":99},{"d":"2005-06","c":"Spagna","v":100},{"d":"2005-07","c":"Spagna","v":101.5},{"d":"2005-08","c":"Spagna","v":104.4},{"d":"2005-09","c":"Spagna","v":103},{"d":"2005-10","c":"Spagna","v":104},{"d":"2005-11","c":"Spagna","v":108.8},{"d":"2005-12","c":"Spagna","v":112.5},
{"d":"2006-01","c":"Spagna","v":117.7},{"d":"2006-02","c":"Spagna","v":114.7},{"d":"2006-03","c":"Spagna","v":114},{"d":"2006-04","c":"Spagna","v":115.1},{"d":"2006-05","c":"Spagna","v":116.9},{"d":"2006-06","c":"Spagna","v":111.8},{"d":"2006-07","c":"Spagna","v":112},{"d":"2006-08","c":"Spagna","v":115.5},{"d":"2006-09","c":"Spagna","v":114.7},{"d":"2006-10","c":"Spagna","v":113.3},{"d":"2006-11","c":"Spagna","v":122.1},{"d":"2006-12","c":"Spagna","v":123.6},
{"d":"2007-01","c":"Spagna","v":120.7},{"d":"2007-02","c":"Spagna","v":125.1},{"d":"2007-03","c":"Spagna","v":122.9},{"d":"2007-04","c":"Spagna","v":123.6},{"d":"2007-05","c":"Spagna","v":124.4},{"d":"2007-06","c":"Spagna","v":129.5},{"d":"2007-07","c":"Spagna","v":128},{"d":"2007-08","c":"Spagna","v":128.8},{"d":"2007-09","c":"Spagna","v":128.8},{"d":"2007-10","c":"Spagna","v":125.1},{"d":"2007-11","c":"Spagna","v":126.6},{"d":"2007-12","c":"Spagna","v":118.4},
{"d":"2008-01","c":"Spagna","v":133.2},{"d":"2008-02","c":"Spagna","v":134.7},{"d":"2008-03","c":"Spagna","v":131},{"d":"2008-04","c":"Spagna","v":134.7},{"d":"2008-05","c":"Spagna","v":126.6},{"d":"2008-06","c":"Spagna","v":133.2},{"d":"2008-07","c":"Spagna","v":141.4},{"d":"2008-08","c":"Spagna","v":145.8},{"d":"2008-09","c":"Spagna","v":149.3},{"d":"2008-10","c":"Spagna","v":148.7},{"d":"2008-11","c":"Spagna","v":133.2},{"d":"2008-12","c":"Spagna","v":116.2},
{"d":"2009-01","c":"Spagna","v":105.9},{"d":"2009-02","c":"Spagna","v":108.8},{"d":"2009-03","c":"Spagna","v":108.8},{"d":"2009-04","c":"Spagna","v":106.6},{"d":"2009-05","c":"Spagna","v":109.6},{"d":"2009-06","c":"Spagna","v":112.5},{"d":"2009-07","c":"Spagna","v":115.1},{"d":"2009-08","c":"Spagna","v":116.2},{"d":"2009-09","c":"Spagna","v":117.7},{"d":"2009-10","c":"Spagna","v":117.7},{"d":"2009-11","c":"Spagna","v":118.4},{"d":"2009-12","c":"Spagna","v":119.2},
{"d":"2010-01","c":"Spagna","v":120.7},{"d":"2010-02","c":"Spagna","v":123.6}
],
"brace": [
{"p":"L","o":1,"d":"2005-04-10","v":105.4},{"p":"L","o":2,"d":"2005-04-07","v":108.9},{"p":"L","o":3,"d":"2005-05-01","v":112.2},{"p":"L","o":4,"d":"2005-06-28","v":115.9},{"p":"L","o":5,"d":"2005-09-17","v":119.2},{"p":"L","o":6,"d":"2005-12-24","v":122.4},{"p":"L","o":7,"d":"2006-03-18","v":125.7},{"p":"L","o":8,"d":"2006-05-22","v":129.4},{"p":"L","o":9,"d":"2006-06-24","v":133.2},{"p":"L","o":10,"d":"2006-06-28","v":135.1},
{"p":"R","o":1,"d":"2006-06-28","v":135.1},{"p":"R","o":2,"d":"2006-07-19","v":133.2},{"p":"R","o":3,"d":"2006-09-06","v":132.4},{"p":"R","o":4,"d":"2006-11-27","v":132.7},{"p":"R","o":5,"d":"2007-03-06","v":135.1},{"p":"R","o":6,"d":"2007-05-26","v":138.1},{"p":"R","o":7,"d":"2007-08-25","v":140.8},{"p":"R","o":8,"d":"2007-12-02","v":142.2},{"p":"R","o":9,"d":"2008-02-06","v":141.6},{"p":"R","o":10,"d":"2008-03-09","v":140.3},{"p":"R","o":11,"d":"2008-03-21","v":138.9}
],
"arrow": [
{"p":"s","o":1,"d":"2008-10-12","v":146.6},{"p":"s","o":2,"d":"2009-05-29","v":117.3},
{"p":"h","o":1,"d":"2009-04-01","v":120.3},{"p":"h","o":2,"d":"2009-05-29","v":117.3},{"p":"h","o":3,"d":"2009-06-02","v":121.9}
]
},
"bounds": "flush",
"spacing": 165,
"vconcat": [
{
  "title": {"text": "Totale esportazioni", "fontSize": 22, "offset": 10, "dx": -33, "dy": 45},
  "width": 1508,
  "height": 437,
  "layer": [
    {"data": {"values": [{}]}, "mark": {"type": "rule", "color": "#7f7f7f", "strokeWidth": 2}, "encoding": {"y": {"datum": 100, "type": "quantitative"}}},
    {"data": {"name": "tot"}, "mark": {"type": "line"},
     "encoding": {
      "x": {"field": "d", "type": "temporal", "scale": {"type": "utc", "domain": [{"year": 1999, "month": 12, "date": 14, "utc": true}, {"year": 2010, "month": 2, "date": 19, "utc": true}]},
            "axis": {"title": null, "format": "%Y", "tickCount": {"interval": "year", "step": 1}, "domain": false, "ticks": false, "labelFontSize": 22, "labelPadding": 25, "labelOverlap": false, "labelFlush": false}},
      "y": {"field": "v", "type": "quantitative", "scale": {"domain": [70, 140], "nice": false, "zero": false},
            "axis": {"title": null, "values": [70, 80, 90, 100, 110, 120, 130, 140], "labelFontSize": 21, "labelPadding": 18, "ticks": false, "domain": true}},
      "color": {"field": "c", "type": "nominal", "scale": {"domain": ["Italia", "Francia", "Germania", "Spagna"], "range": ["#201c5c", "#a3a3a3", "#f5c42c", "#9e2a2b"]}},
      "strokeWidth": {"field": "c", "type": "nominal", "scale": {"type": "ordinal", "domain": ["Italia", "Francia", "Germania", "Spagna"], "range": [7, 2.5, 9, 4]}},
      "strokeDash": {"field": "c", "type": "nominal", "scale": {"domain": ["Italia", "Francia", "Germania", "Spagna"], "range": [[1, 0], [1, 0], [1, 0], [4, 8]]}}
     }},
    {"data": {"name": "brace"}, "mark": {"type": "line", "color": "#c00000", "strokeWidth": 5, "interpolate": "cardinal", "strokeJoin": "round", "clip": false},
     "encoding": {"x": {"field": "d", "type": "temporal", "scale": {"type": "utc"}}, "y": {"field": "v", "type": "quantitative"}, "detail": {"field": "p", "type": "nominal"}, "order": {"field": "o", "type": "quantitative"}}},
    {"data": {"name": "arrow"}, "mark": {"type": "line", "color": "#c00000", "strokeWidth": 5, "strokeJoin": "round", "clip": false},
     "encoding": {"x": {"field": "d", "type": "temporal", "scale": {"type": "utc"}}, "y": {"field": "v", "type": "quantitative"}, "detail": {"field": "p", "type": "nominal"}, "order": {"field": "o", "type": "quantitative"}}},
    {"data": {"values": [{"d": "2009-10-07", "v": 102.2}]},
     "mark": {"type": "point", "shape": "M1,0C1,0.5385 0.5523,0.975 0,0.975C-0.5523,0.975 -1,0.5385 -1,0C-1,-0.5385 -0.5523,-0.975 0,-0.975C0.5523,-0.975 1,-0.5385 1,0Z", "size": 40401, "filled": false, "stroke": "#c00000", "strokeWidth": 6, "strokeDash": [22, 12], "opacity": 1, "clip": false},
     "encoding": {"x": {"field": "d", "type": "temporal", "scale": {"type": "utc"}}, "y": {"field": "v", "type": "quantitative"}}}
  ]
},
{
  "bounds": "flush",
  "spacing": 91,
  "hconcat": [
    {
      "title": {"text": "Ue27", "fontSize": 21, "offset": 5, "dx": -14, "dy": 12},
      "width": 705,
      "height": 317,
      "layer": [
        {"data": {"values": [{}]}, "mark": {"type": "rule", "color": "#7f7f7f", "strokeWidth": 2}, "encoding": {"y": {"datum": 100, "type": "quantitative"}}},
        {"data": {"name": "ue"}, "mark": {"type": "line"},
         "encoding": {
          "x": {"field": "d", "type": "temporal", "scale": {"type": "utc", "domain": [{"year": 2004, "month": 12, "date": 28, "utc": true}, {"year": 2010, "month": 2, "date": 14, "utc": true}]},
                "axis": {"title": null, "format": "%Y", "tickCount": {"interval": "year", "step": 1}, "domain": false, "ticks": false, "labelFontSize": 21, "labelPadding": 25, "labelOverlap": false, "labelFlush": false}},
          "y": {"field": "v", "type": "quantitative", "scale": {"domain": [80, 150], "nice": false, "zero": false},
                "axis": {"title": null, "values": [80, 90, 100, 110, 120, 130, 140, 150], "labelFontSize": 20, "labelPadding": 14, "ticks": true, "tickSize": 6, "domain": true}},
          "color": {"field": "c", "type": "nominal", "scale": {"domain": ["Italia", "Francia", "Germania", "Spagna"], "range": ["#201c5c", "#a3a3a3", "#f5c42c", "#9e2a2b"]}},
          "strokeWidth": {"field": "c", "type": "nominal", "scale": {"type": "ordinal", "domain": ["Italia", "Francia", "Germania", "Spagna"], "range": [7, 2.5, 9, 4]}},
          "strokeDash": {"field": "c", "type": "nominal", "scale": {"domain": ["Italia", "Francia", "Germania", "Spagna"], "range": [[1, 0], [1, 0], [1, 0], [4, 8]]}}
         }},
        {"data": {"values": [{"d": "2009-02-12", "v": 110.6}]},
         "mark": {"type": "point", "shape": "M1,0C1,0.497 0.5523,0.9 0,0.9C-0.5523,0.9 -1,0.497 -1,0C-1,-0.497 -0.5523,-0.9 0,-0.9C0.5523,-0.9 1,-0.497 1,0Z", "size": 102400, "filled": false, "stroke": "#c00000", "strokeWidth": 6, "strokeDash": [22, 12], "opacity": 1, "clip": false},
         "encoding": {"x": {"field": "d", "type": "temporal", "scale": {"type": "utc"}}, "y": {"field": "v", "type": "quantitative"}}}
      ]
    },
    {
      "title": {"text": "Extra-Ue", "fontSize": 21, "offset": 5, "dx": -16, "dy": 12},
      "width": 711,
      "height": 317,
      "layer": [
        {"data": {"values": [{}]}, "mark": {"type": "rule", "color": "#7f7f7f", "strokeWidth": 2}, "encoding": {"y": {"datum": 100, "type": "quantitative"}}},
        {"data": {"name": "ex"}, "mark": {"type": "line"},
         "encoding": {
          "x": {"field": "d", "type": "temporal", "scale": {"type": "utc", "domain": [{"year": 2004, "month": 12, "date": 30, "utc": true}, {"year": 2010, "month": 2, "date": 10, "utc": true}]},
                "axis": {"title": null, "format": "%Y", "tickCount": {"interval": "year", "step": 1}, "domain": false, "ticks": false, "labelFontSize": 21, "labelPadding": 25, "labelOverlap": false, "labelFlush": false}},
          "y": {"field": "v", "type": "quantitative", "scale": {"domain": [80, 150], "nice": false, "zero": false},
                "axis": {"title": null, "values": [80, 90, 100, 110, 120, 130, 140, 150], "labelFontSize": 20, "labelPadding": 14, "ticks": true, "tickSize": 6, "domain": true}},
          "color": {"field": "c", "type": "nominal", "scale": {"domain": ["Italia", "Francia", "Germania", "Spagna"], "range": ["#201c5c", "#a3a3a3", "#f5c42c", "#9e2a2b"]}},
          "strokeWidth": {"field": "c", "type": "nominal", "scale": {"type": "ordinal", "domain": ["Italia", "Francia", "Germania", "Spagna"], "range": [7, 2.5, 9, 4]}},
          "strokeDash": {"field": "c", "type": "nominal", "scale": {"domain": ["Italia", "Francia", "Germania", "Spagna"], "range": [[1, 0], [1, 0], [1, 0], [4, 8]]}}
         }},
        {"data": {"values": [{"d": "2009-09-18", "v": 108.7}]},
         "mark": {"type": "point", "shape": "M1,0C1,0.5109 0.5523,0.925 0,0.925C-0.5523,0.925 -1,0.5109 -1,0C-1,-0.5109 -0.5523,-0.925 0,-0.925C0.5523,-0.925 1,-0.5109 1,0Z", "size": 40000, "filled": false, "stroke": "#c00000", "strokeWidth": 6, "strokeDash": [22, 12], "opacity": 1, "clip": false},
         "encoding": {"x": {"field": "d", "type": "temporal", "scale": {"type": "utc"}}, "y": {"field": "v", "type": "quantitative"}}}
      ]
    }
  ]
}
]
}
